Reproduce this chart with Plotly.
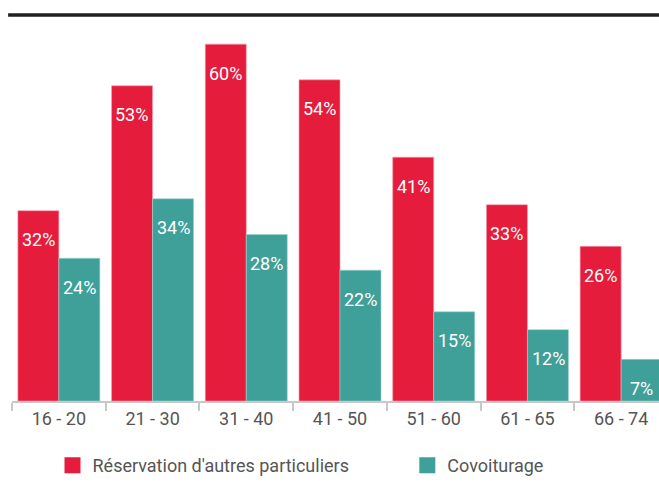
import plotly.graph_objects as go

categories = ["16 - 20", "21 - 30", "31 - 40", "41 - 50", "51 - 60", "61 - 65", "66 - 74"]
reservation = [32, 53, 60, 54, 41, 33, 26]
covoiturage = [24, 34, 28, 22, 15, 12, 7]
series_names = ["Réservation d'autres particuliers", "Covoiturage"]
RED = "#E51C3C"
TEAL = "#3EA099"
FONT = "Roboto"

fig = go.Figure()
fig.add_trace(go.Bar(x=categories, y=reservation, name=series_names[0], marker_color=RED,
                     marker_line=dict(color="#f3a0ae", width=0.6), showlegend=False))
fig.add_trace(go.Bar(x=categories, y=covoiturage, name=series_names[1], marker_color=TEAL,
                     marker_line=dict(color="#a0d2ce", width=0.6), showlegend=False))

# legend proxies (one legend box per series)
for nm, col, lg in zip(series_names, [RED, TEAL], ["legend", "legend2"]):
    fig.add_trace(go.Scatter(x=[None], y=[None], mode="markers", name=nm, legend=lg,
                             marker=dict(symbol="square", size=16, color=col)))

annotations = []
for i, c in enumerate(categories):
    for vals, off in ((reservation, -0.22), (covoiturage, 0.22)):
        annotations.append(dict(x=i + off, y=vals[i], xref="x", yref="y", text=f"{vals[i]}%",
                                showarrow=False, yshift=-29,
                                font=dict(color="white", size=18, family=FONT)))

leg_common = dict(orientation="h", y=-0.168, xanchor="left", yanchor="middle",
                  font=dict(size=18, color="#555555", family=FONT), itemwidth=30,
                  bgcolor="rgba(0,0,0,0)")

fig.update_layout(
    width=659, height=484,
    margin=dict(l=12, r=0, t=15, b=83),
    paper_bgcolor="white", plot_bgcolor="white",
    barmode="group", bargap=0.125, bargroupgap=0,
    font=dict(family=FONT, color="#555555", size=18),
    xaxis=dict(range=[-0.5, 6.404], tickson="boundaries", ticks="outside", ticklen=8,
               tickwidth=1.5, tickcolor="#c8c8c8", showline=True, linecolor="#c8c8c8",
               linewidth=2, showgrid=False, tickfont=dict(size=18, color="#555555"),
               fixedrange=True),
    yaxis=dict(range=[0, 64.9], visible=False, showgrid=False, fixedrange=True),
    legend=dict(x=0.0626, **leg_common),
    legend2=dict(x=0.611, **leg_common),
    annotations=annotations,
    shapes=[dict(type="line", xref="paper", yref="paper", x0=-0.006, x1=1, y0=1, y1=1,
                 line=dict(color="#231f20", width=3.5))],
)

fig.write_html("out.html", config={"displayModeBar": False},
               post_script="document.body.style.margin='0';document.body.style.overflow='hidden';")
